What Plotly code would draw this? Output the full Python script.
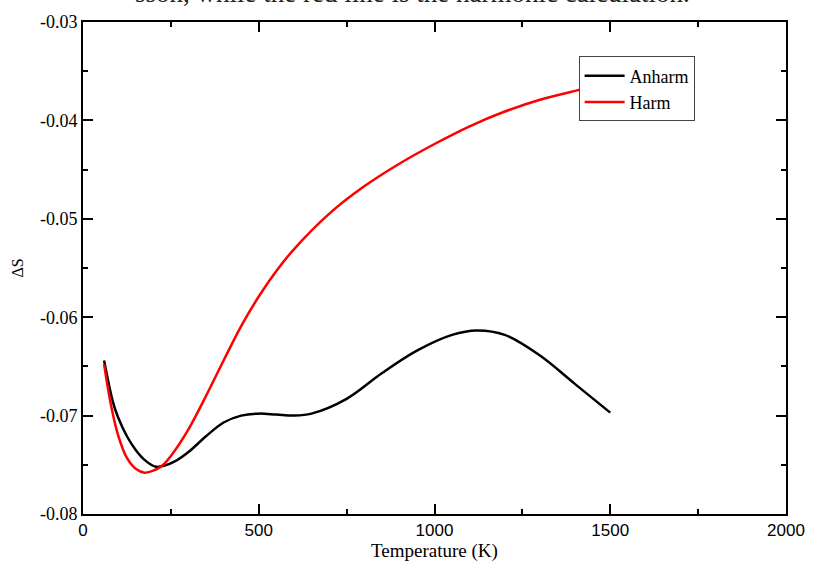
import plotly.graph_objects as go

# Anharmonic (black) series
anharm_T = [60, 85, 100, 125, 150, 175, 207, 230, 264, 300, 350, 400, 450, 500, 550, 600, 650,
            750, 850, 950, 1050, 1120, 1200, 1300, 1400, 1500]
anharm_S = [-0.0644, -0.0686, -0.0702, -0.0721, -0.0735, -0.0745, -0.0752, -0.0751, -0.0746, -0.0737,
            -0.0721, -0.0707, -0.0700, -0.0698, -0.0699, -0.0700, -0.0698,
            -0.0683, -0.0657, -0.0634, -0.0618, -0.06135, -0.0618, -0.0639, -0.0668, -0.0697]

# Harmonic (red) series
harm_T = [60, 80, 100, 125, 150, 175, 200, 225, 250, 300, 350, 400, 450, 500, 550, 600, 700,
          800, 900, 1000, 1100, 1200, 1300, 1400, 1500]
harm_S = [-0.0648, -0.0690, -0.0720, -0.0743, -0.0754, -0.0758, -0.0756, -0.0751, -0.0741, -0.0714,
          -0.0680, -0.0644, -0.0609, -0.0579, -0.0553, -0.0531, -0.0495,
          -0.0467, -0.0444, -0.0424, -0.0406, -0.0391, -0.0379, -0.0370, -0.0362]

x_tickvals = [0, 500, 1000, 1500, 2000]
x_ticktext = ["0", "500", "1000", "1500", "2000"]
y_tickvals = [-0.08, -0.07, -0.06, -0.05, -0.04, -0.03]
y_ticktext = ["-0.08", "-0.07", "-0.06", "-0.05", "-0.04", "-0.03"]

caption = "sson, while the red line is the harmonic calculation."

fig = go.Figure()
fig.add_trace(go.Scatter(x=anharm_T, y=anharm_S, mode="lines", name="Anharm",
                         line=dict(color="black", width=2.5, shape="spline", smoothing=1.0)))
fig.add_trace(go.Scatter(x=harm_T, y=harm_S, mode="lines", name="Harm",
                         line=dict(color="#ff0000", width=2.5, shape="spline", smoothing=1.0)))

serif = "Liberation Serif, Times New Roman, serif"
axis_common = dict(showline=True, linecolor="black", linewidth=2, mirror="ticks",
                   ticks="inside", ticklen=10, tickwidth=2, tickcolor="black",
                   showgrid=False, zeroline=False)

fig.update_xaxes(range=[0, 2000], tickvals=x_tickvals, ticktext=x_ticktext,
                 tickfont=dict(family="Liberation Sans, Arial, sans-serif", size=17, color="black"),
                 minor=dict(ticks="inside", ticklen=5, tickwidth=2, tickcolor="black",
                            tickvals=[250, 750, 1250, 1750]),
                 title=dict(text="Temperature (K)", font=dict(family=serif, size=19, color="black"),
                            standoff=0),
                 **axis_common)
fig.update_yaxes(range=[-0.08, -0.03], tickvals=y_tickvals, ticktext=y_ticktext,
                 tickfont=dict(family=serif, size=18, color="black"),
                 minor=dict(ticks="inside", ticklen=5, tickwidth=2, tickcolor="black",
                            tickvals=[-0.075, -0.065, -0.055, -0.045, -0.035]),
                 title=dict(text="ΔS", font=dict(family=serif, size=16, color="black"),
                            standoff=12),
                 **axis_common)

fig.update_layout(
    width=817, height=566,
    margin=dict(l=83, r=24, t=22, b=46),
    plot_bgcolor="white", paper_bgcolor="white",
    showlegend=True,
    legend=dict(x=0.705, y=0.93, xanchor="left", yanchor="top",
                bgcolor="white", bordercolor="#444444", borderwidth=1,
                font=dict(family=serif, size=18, color="black"),
                itemwidth=40, tracegroupgap=0),
    annotations=[dict(text=caption,
                      xref="paper", yref="paper", x=0.468, y=1.0, yshift=12,
                      xanchor="center", yanchor="bottom", showarrow=False,
                      font=dict(family=serif, size=27, color="#222222"))],
)

fig.write_html("out.html")
